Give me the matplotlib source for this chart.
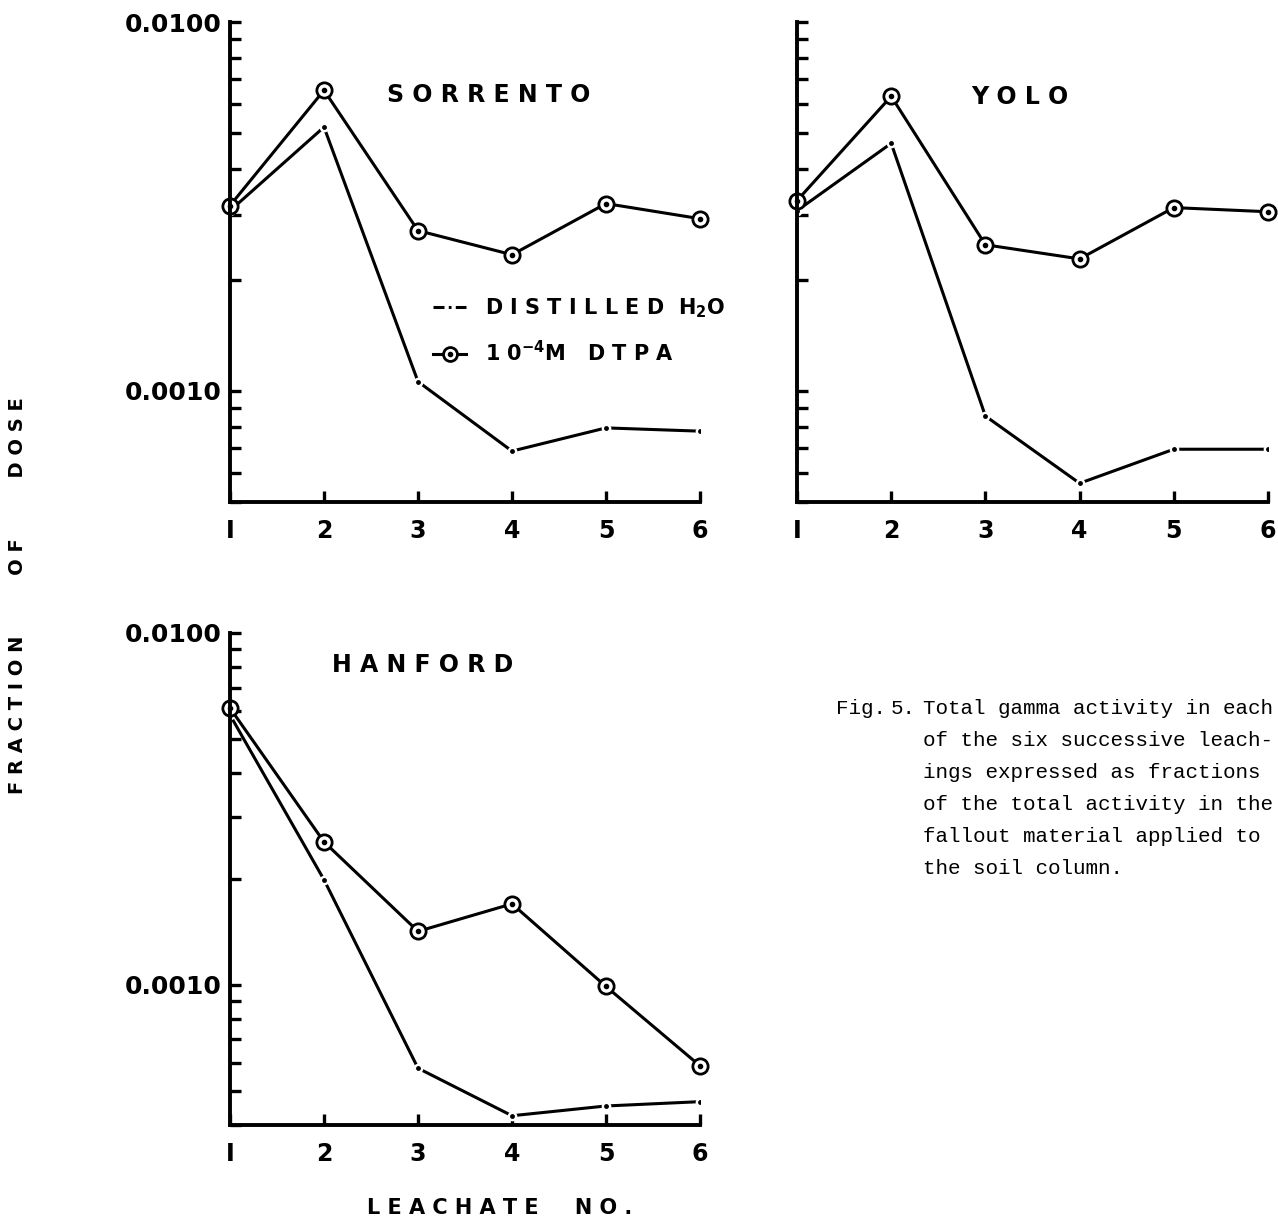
import matplotlib
matplotlib.use('Agg')
import matplotlib.pyplot as plt
from matplotlib.ticker import LogLocator, NullFormatter, FuncFormatter
from matplotlib.lines import Line2D

# Leachate numbers
leachate = [1, 2, 3, 4, 5, 6]

# Fraction of dose
sorrento_h2o = [0.00308, 0.00519, 0.00106, 0.000687, 0.000794, 0.000778]
sorrento_dtpa = [0.00318, 0.00653, 0.00272, 0.00234, 0.00322, 0.00293]
yolo_h2o = [0.00308, 0.00469, 0.000855, 0.000562, 0.000695, 0.000695]
yolo_dtpa = [0.00328, 0.00629, 0.00249, 0.00228, 0.00314, 0.00306]
hanford_h2o = [0.00585, 0.00199, 0.00058, 0.000425, 0.000453, 0.000466]
hanford_dtpa = [0.00612, 0.00255, 0.00142, 0.00170, 0.00099, 0.000589]

caption = ["Total gamma activity in each",
           "of the six successive leach-",
           "ings expressed as fractions",
           "of the total activity in the",
           "fallout material applied to",
           "the soil column."]

LW = 2.2
BOLD = dict(fontweight='bold', family='DejaVu Sans')


def spaced(s, gap=1):
    words = s.split(' ')
    return (' ' * (gap * 3)).join(' '.join(w) for w in words)


def draw_panel(ax, h2o, dtpa, title, tx, ty, ylo, ylabels=True):
    # distilled water: line with small gaps and a dot at each point
    ax.plot(leachate, h2o, color='k', lw=LW, zorder=2)
    ax.plot(leachate, h2o, 'o', ms=7, mfc='white', mew=0, zorder=2)
    ax.plot(leachate, h2o, 'o', ms=3.5, color='k', mew=0, zorder=2)
    # DTPA: line with open circles having a centre dot
    ax.plot(leachate, dtpa, color='k', lw=LW, marker='o', ms=11,
            mfc='white', mec='k', mew=2, zorder=2.2, clip_on=False)
    ax.plot(leachate, dtpa, 'o', ms=3, color='k', zorder=2.2, clip_on=False)

    ax.set_yscale('log')
    ax.set_xlim(1, 6)
    ax.set_ylim(ylo, 0.01)
    for s in ['top', 'right']:
        ax.spines[s].set_visible(False)
    for s in ['left', 'bottom']:
        ax.spines[s].set_linewidth(2.8)

    ax.set_xticks(leachate)
    ax.set_xticklabels(['I', '2', '3', '4', '5', '6'], fontsize=17, **BOLD)
    ax.set_yticks([0.001, 0.01])
    ax.yaxis.set_minor_locator(LogLocator(base=10, subs=range(2, 10)))
    ax.yaxis.set_minor_formatter(NullFormatter())
    ax.yaxis.set_major_formatter(FuncFormatter(lambda v, p: '%.4f' % v))
    ax.tick_params(which='both', direction='in', length=8, width=2.4)
    ax.tick_params(axis='x', pad=12)
    ax.tick_params(axis='y', pad=6, labelleft=ylabels)
    for lab in ax.get_yticklabels():
        lab.set_fontsize(18)
        lab.set_fontweight('bold')

    ax.text(tx, ty, spaced(title), transform=ax.transAxes, ha='center',
            va='center', fontsize=17, **BOLD)


fig = plt.figure(figsize=(12.78, 12.25), dpi=100)
W, H = 1278, 1225

ax1 = fig.add_axes([230 / W, 1 - 502 / H, 470 / W, 480 / H])
ax2 = fig.add_axes([797 / W, 1 - 502 / H, 471 / W, 480 / H])
ax3 = fig.add_axes([230 / W, 1 - 1125 / H, 470 / W, 492 / H])

draw_panel(ax1, sorrento_h2o, sorrento_dtpa, 'SORRENTO', 0.551, 0.848, 0.0005)
draw_panel(ax2, yolo_h2o, yolo_dtpa, 'YOLO', 0.473, 0.844, 0.0005, ylabels=False)
draw_panel(ax3, hanford_h2o, hanford_dtpa, 'HANFORD', 0.41, 0.935, 0.0004)

# legend in the Sorrento panel
h_water = Line2D([], [], color='k', lw=LW, dashes=(3.6, 1.4, 0.9, 1.4))
h_dtpa = Line2D([], [], color='k', lw=LW, marker='o', ms=10, mfc='white',
                mec='k', mew=2)
h_dot = Line2D([], [], color='k', lw=0, marker='o', ms=3)
leg = ax1.legend([h_water, (h_dtpa, h_dot)],
                 [spaced('DISTILLED') + '  H$_\\mathbf{2}$O',
                  '1 0$^{\\mathbf{-4}}$M   ' + ' '.join('DTPA')],
                 loc='upper left', bbox_to_anchor=(0.41, 0.45),
                 frameon=False, handlelength=1.6, handletextpad=0.9,
                 labelspacing=0.95, borderpad=0,
                 prop=dict(size=15, weight='bold', family='DejaVu Sans'))

# axis titles shared by the panels
fig.text(18 / W, 1 - 596 / H, spaced('FRACTION OF DOSE', gap=3), rotation=90,
         ha='center', va='center', fontsize=14, **BOLD)
fig.text(500 / W, 1 - 1208 / H, ' '.join('LEACHATE') + '     ' + ' '.join('NO.'),
         ha='center', va='center', fontsize=15, **BOLD)

# typewritten caption
fig.text(836 / W, 1 - 708 / H, 'Fig.', ha='left', va='center',
         fontsize=15, family='Liberation Mono')
fig.text(891 / W, 1 - 708 / H, '5.', ha='left', va='center',
         fontsize=15, family='Liberation Mono')
for i, line in enumerate(caption):
    fig.text(923 / W, 1 - (708 + 32 * i) / H, line, ha='left', va='center',
             fontsize=15, family='Liberation Mono')

fig.savefig('out.png', dpi=100)
